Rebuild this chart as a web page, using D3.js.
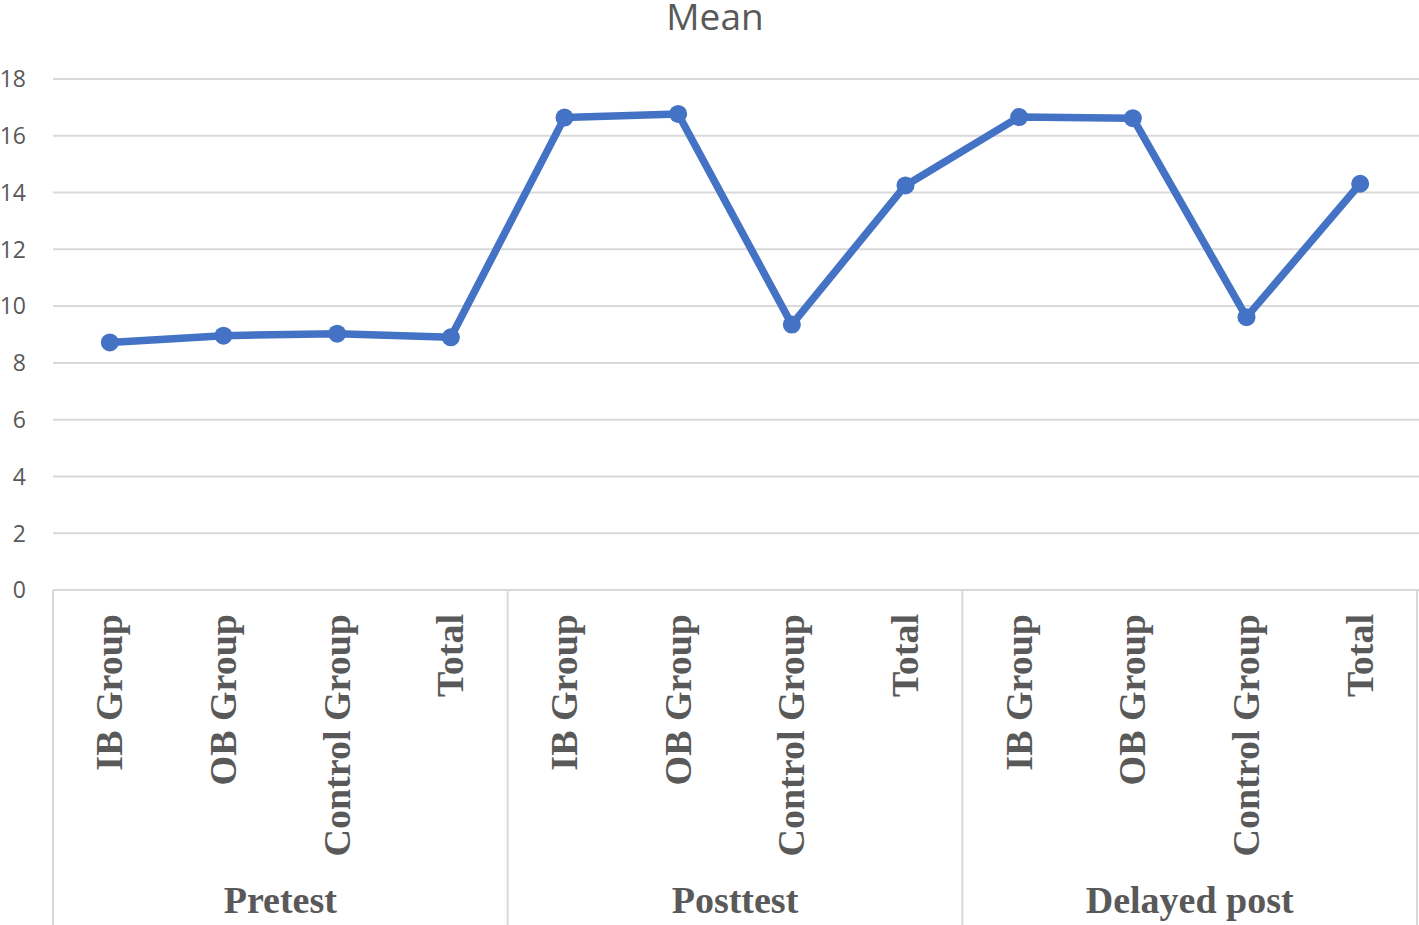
<!DOCTYPE html>
<html>
<head>
<meta charset="utf-8">
<script src="https://cdn.jsdelivr.net/npm/d3@7"></script>
<style>
  html, body { margin: 0; padding: 0; background: #fff; overflow: hidden; }
</style>
</head>
<body>
<svg id="chart" width="1419" height="925"></svg>
<script>
// data
const groups = ['Pretest', 'Posttest', 'Delayed post'];
const subGroups = ['IB Group', 'OB Group', 'Control Group', 'Total'];
const pretestMeans = [8.72, 8.96, 9.03, 8.90];
const posttestMeans = [16.64, 16.77, 9.35, 14.25];
const delayedMeans = [16.66, 16.62, 9.61, 14.31];
const yTicks = [0, 2, 4, 6, 8, 10, 12, 14, 16, 18];

const points = [];
[pretestMeans, posttestMeans, delayedMeans].forEach((vals, gi) => {
    vals.forEach((v, si) => {
        points.push({ key: `${gi}-${si}`, group: groups[gi], sub: subGroups[si], value: v });
    });
});

const svg = d3.select('#chart');
const margin = { left: 53, right: 2, top: 79, bottom: 335 };
const width = 1419, height = 925;
const gray = '#595959';
const gridColor = '#d9d9d9';

const x = d3.scaleBand()
    .domain(points.map((d) => d.key))
    .range([margin.left, width - margin.right])
    .padding(0);

const y = d3.scaleLinear()
    .domain([0, 18])
    .range([height - margin.bottom, margin.top]);

// gridlines
svg.append('g')
    .selectAll('line')
    .data(yTicks)
    .join('line')
    .attr('x1', margin.left)
    .attr('x2', width)
    .attr('y1', (d) => y(d))
    .attr('y2', (d) => y(d))
    .attr('stroke', gridColor)
    .attr('stroke-width', 2);

// y tick labels
svg.append('g')
    .selectAll('text')
    .data(yTicks)
    .join('text')
    .attr('x', 26)
    .attr('y', (d) => y(d))
    .attr('dy', '0.36em')
    .attr('text-anchor', 'end')
    .attr('font-family', '"Open Sans", sans-serif')
    .attr('font-size', 23)
    .attr('fill', gray)
    .text((d) => d);

// title (top is clipped in the original too)
svg.append('text')
    .attr('x', 715)
    .attr('y', 30)
    .attr('text-anchor', 'middle')
    .attr('font-family', '"Open Sans", sans-serif')
    .attr('font-size', 37)
    .attr('fill', gray)
    .text('Mean');

// group separators
const groupBounds = groups.map((g) => {
    const keys = points.filter((p) => p.group === g).map((p) => p.key);
    return { group: g, x0: x(keys[0]), x1: x(keys[keys.length - 1]) + x.bandwidth() };
});
const sepX = [groupBounds[0].x0].concat(groupBounds.map((b) => b.x1));
svg.append('g')
    .selectAll('line')
    .data(sepX)
    .join('line')
    .attr('x1', (d) => d)
    .attr('x2', (d) => d)
    .attr('y1', y(0))
    .attr('y2', height)
    .attr('stroke', gridColor)
    .attr('stroke-width', 2);

// sub-category labels (rotated)
svg.append('g')
    .selectAll('text')
    .data(points)
    .join('text')
    .attr('transform', (d) => `translate(${x(d.key) + x.bandwidth() / 2},614) rotate(-90)`)
    .attr('dy', '0.33em')
    .attr('text-anchor', 'end')
    .attr('font-family', '"Liberation Serif", "Times New Roman", serif')
    .attr('font-weight', 'bold')
    .attr('font-size', 38)
    .attr('fill', gray)
    .text((d) => d.sub);

// group labels
svg.append('g')
    .selectAll('text')
    .data(groupBounds)
    .join('text')
    .attr('x', (d) => (d.x0 + d.x1) / 2)
    .attr('y', 913)
    .attr('text-anchor', 'middle')
    .attr('font-family', '"Liberation Serif", "Times New Roman", serif')
    .attr('font-weight', 'bold')
    .attr('font-size', 38)
    .attr('fill', gray)
    .text((d) => d.group);

// line + markers
const line = d3.line()
    .x((d) => x(d.key) + x.bandwidth() / 2)
    .y((d) => y(d.value));

svg.append('path')
    .datum(points)
    .attr('d', line)
    .attr('fill', 'none')
    .attr('stroke', '#4472c4')
    .attr('stroke-width', 7.5)
    .attr('stroke-linejoin', 'round');

svg.append('g')
    .selectAll('circle')
    .data(points)
    .join('circle')
    .attr('cx', (d) => x(d.key) + x.bandwidth() / 2)
    .attr('cy', (d) => y(d.value))
    .attr('r', 9)
    .attr('fill', '#4472c4');
</script>
</body>
</html>
